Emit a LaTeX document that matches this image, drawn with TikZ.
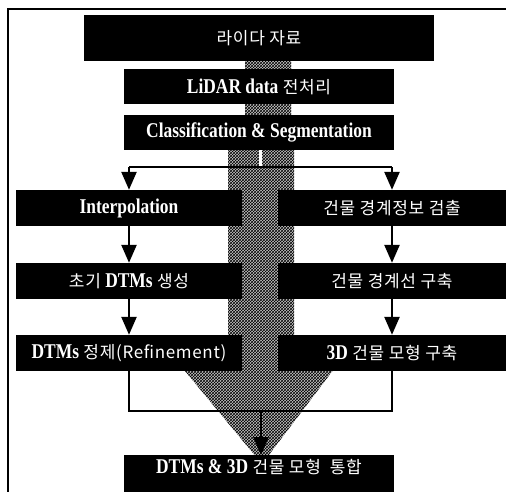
\documentclass[tikz,border=0pt]{standalone}
\usepackage{fontspec}
\newfontfamily\lat{Liberation Serif}[FakeStretch=0.83]
\newfontfamily\ko{Noto Sans CJK KR}[LetterSpace=4]
\usetikzlibrary{arrows.meta,patterns}
\newcommand{\kt}[1]{{\ko\mdseries\fontsize{17}{19}\selectfont #1}}
\begin{document}
\begin{tikzpicture}[x=1pt,y=-1pt,
  box/.style={fill=black,text=white,inner sep=0pt,font=\lat\bfseries\fontsize{21}{23}\selectfont},
  conn/.style={line width=2.5pt},
  arr/.style={line width=2.5pt,-{Triangle[width=15pt,length=18pt]}},
  hatch/.style={fill=gray!45,postaction={pattern=crosshatch,pattern color=black}}]
\useasboundingbox (0,0) rectangle (506,492);
\fill[white] (0,0) rectangle (506,492);
% hatched arrow
\path[hatch] (245,61) -- (291,61) -- (291,132) -- (294,132) -- (294,365) -- (337,365)
  -- (262,464) -- (180,365) -- (228,365) -- (228,132) -- (245,132) -- cycle;
% frame
\draw[line width=2pt] (506,9) -- (8,9) -- (8,492);
% boxes
\node[box,minimum width=350,minimum height=46] (n1) at (259,38) {\kt{라이다 자료}};
\node[box,minimum width=270,minimum height=35] (n2) at (259,86.5) {LiDAR data \kt{전처리}};
\node[box,minimum width=270,minimum height=35] (n3) at (259,132.5) {Classification \& Segmentation};
\node[box,minimum width=226,minimum height=36] (l1) at (129,208) {Interpolation};
\node[box,minimum width=228,minimum height=36] (r1) at (392,208) {\kt{건물 경계정보 검출}};
\node[box,minimum width=226,minimum height=36] (l2) at (129,281) {\kt{초기} DTMs \kt{생성}};
\node[box,minimum width=228,minimum height=36] (r2) at (392,281) {\kt{건물 경계선 구축}};
\node[box,minimum width=226,minimum height=36] (l3) at (129,353) {DTMs \kt{정제(Refinement)}};
\node[box,minimum width=228,minimum height=36] (r3) at (392,353) {3D \kt{건물 모형 구축}};
\node[box,minimum width=270,text height=18pt,text depth=25pt,anchor=north] (f) at (259,455) {DTMs \& 3D \kt{건물 모형\ \ 통합}};
% connectors
\coordinate (hl) at (260,167);
\coordinate (bl) at (261,411);
\draw[white,line width=3pt] (n3.south -| hl) -- (hl);
\draw[conn] (hl -| l1.north) -- (hl -| r1.north);
\draw[arr] (hl -| l1.north) -- (l1.north);
\draw[arr] (hl -| r1.north) -- (r1.north);
\draw[arr] (l1) -- (l2);
\draw[arr] (l2) -- (l3);
\draw[arr] (r1) -- (r2);
\draw[arr] (r2) -- (r3);
\draw[conn] (l3.south) -- (l3.south |- bl) -- (r3.south |- bl) -- (r3.south);
\draw[arr] (bl) -- (bl |- f.north);
\end{tikzpicture}
\end{document}
